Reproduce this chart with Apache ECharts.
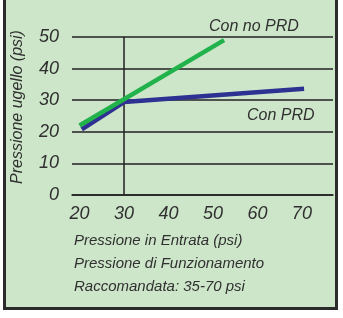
<!DOCTYPE html>
<html>
<head>
<meta charset="utf-8">
<script src="https://cdn.jsdelivr.net/npm/echarts@6/dist/echarts.min.js"></script>
<style>
  html, body { margin:0; padding:0; background:#fff; }
  .frame {
    position:absolute; left:3px; top:-5px; width:335px; height:315px;
    box-sizing:border-box; border:3px solid #2b2b2b; background:#cde6c9;
  }
  #chart { position:absolute; left:0; top:0; width:343px; height:318px; }
</style>
</head>
<body>
<div class="frame"></div>
<div id="chart"></div>
<script>
// tick labels
var xTicks = [20, 30, 40, 50, 60, 70];
// "Con no PRD" (green)
var noPrdX = [20, 52.5];
var noPrdY = [22, 49];
// "Con PRD" (blue)
var prdX = [20.5, 30, 70.5];
var prdY = [20.8, 29.4, 33.6];
// vertical reference at 30 psi
var refX = [30, 30];
var refY = [0, 50];

function pairs(xs, ys) {
  return xs.map(function (x, i) { return [x, ys[i]]; });
}

var chart = echarts.init(document.getElementById('chart'));
var FONT = '"Liberation Sans", Arial, sans-serif';
var TXT = '#303030';

function label(text, x, y, size) {
  return { type: 'text', x: x, y: y,
    style: { text: text, fontSize: size, fontStyle: 'italic', fontFamily: FONT, fill: TXT, verticalAlign: 'middle' } };
}

var options = {
  animation: false,
  backgroundColor: 'transparent',
  grid: { left: 72, right: 10, top: 37, bottom: 123 },
  xAxis: {
    type: 'value',
    min: 18.3,
    max: 77,
    axisLine: { show: true, lineStyle: { color: '#222', width: 1.5 } },
    axisTick: { show: false },
    splitLine: { show: false },
    axisLabel: { customValues: xTicks, fontSize: 18, margin: 10, fontStyle: 'italic', fontFamily: FONT, color: TXT }
  },
  yAxis: {
    type: 'value',
    min: 0,
    max: 50,
    interval: 10,
    axisLine: { show: false },
    axisTick: { show: false },
    splitLine: { lineStyle: { color: '#222', width: 1.5 } },
    axisLabel: { fontSize: 18, margin: 13, fontStyle: 'italic', fontFamily: FONT, color: TXT }
  },
  graphic: [
    { type: 'text', x: 18, y: 107, rotation: Math.PI / 2,
      style: { text: 'Pressione ugello (psi)', fontSize: 16, fontStyle: 'italic', fontFamily: FONT, fill: TXT, align: 'center', verticalAlign: 'middle' } },
    label('Con no PRD', 209, 27, 16),
    label('Con PRD', 247, 116, 16),
    label('Pressione in Entrata (psi)', 74, 241, 15),
    label('Pressione di Funzionamento', 74, 264, 15),
    label('Raccomandata: 35-70 psi', 74, 287, 15)
  ],
  series: [
    {
      type: 'line', data: pairs(refX, refY), symbol: 'none', silent: true,
      lineStyle: { color: '#222', width: 1.5 }, z: 1
    },
    {
      name: 'Con PRD', type: 'line', data: pairs(prdX, prdY), symbol: 'none',
      lineStyle: { color: '#2e3192', width: 4.5 }, z: 2
    },
    {
      name: 'Con no PRD', type: 'line', data: pairs(noPrdX, noPrdY), symbol: 'none',
      lineStyle: { color: '#22b24c', width: 4.5 }, z: 3
    }
  ]
};
chart.setOption(options);
</script>
</body>
</html>
